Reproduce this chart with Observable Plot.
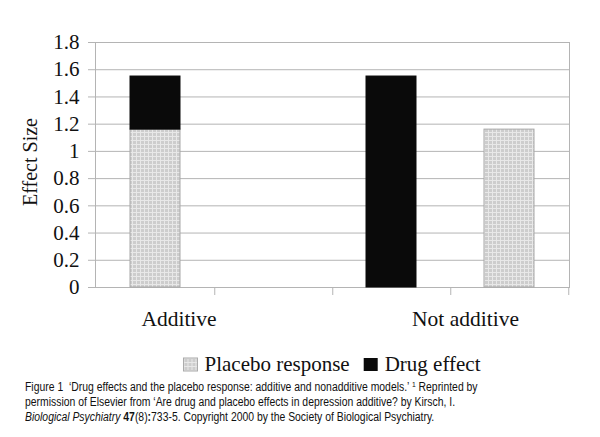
<!DOCTYPE html>
<html>
<head>
<meta charset="utf-8">
<script src="https://cdn.jsdelivr.net/npm/d3@7"></script>
<script src="https://cdn.jsdelivr.net/npm/@observablehq/plot@0.6"></script>
<style>
  body { margin: 0; background: #fff; width: 600px; height: 437px; overflow: hidden; }
  #legend svg { display: block; }
  #caption { font-family: 'Liberation Sans', Arial, sans-serif; font-size: 12.3px; line-height: 15px; color: #111; padding: 2px 0 0 25px; transform: scaleX(0.846); transform-origin: 25px 0; white-space: nowrap; }
  #caption sup { font-size: 8px; vertical-align: 4px; line-height: 0; }
</style>
</head>
<body>
<div id="chart"></div>
<div id="legend"></div>
<div id="caption">Figure 1&nbsp; ‘Drug effects and the placebo response: additive and nonadditive models.’ <sup>1</sup> Reprinted by<br>permission of Elsevier from ‘Are drug and placebo effects in depression additive? by Kirsch, I.<br><i>Biological Psychiatry</i> <b>47</b>(8)<b>:</b>733-5. Copyright 2000 by the Society of Biological Psychiatry.</div>
<script>
// Data
const slots = ["Additive: stacked", "Additive: gap", "Not additive: drug", "Not additive: placebo"];
const series = ["Placebo response", "Drug effect"];
const placeboValues = [1.16, 0, 0, 1.16];
const drugValues = [0.39, 0, 1.55, 0];
const categoryLabels = ["Additive", "Not additive"];
const yTicks = [0, 0.2, 0.4, 0.6, 0.8, 1, 1.2, 1.4, 1.6, 1.8];

const rows = [];
slots.forEach((s, i) => {
  if (placeboValues[i] > 0) rows.push({slot: s, series: series[0], value: placeboValues[i]});
  if (drugValues[i] > 0) rows.push({slot: s, series: series[1], value: drugValues[i]});
});

const serif = "Liberation Serif, DejaVu Serif, serif";
const grid = "#b4b4b4";
const seriesFill = ["url(#placeboPattern)", "#0a0a0a"];
const patternDef = `<pattern id="placeboPattern" patternUnits="userSpaceOnUse" width="4" height="4">
  <rect width="4" height="4" fill="#cdcdcd"/>
  <rect x="0" y="0" width="1" height="4" fill="#e8e8e8"/>
  <rect x="0" y="0" width="4" height="1" fill="#e8e8e8"/>
</pattern>`;

const chart = Plot.plot({
  width: 600,
  height: 350,
  marginLeft: 95,
  marginRight: 31,
  marginTop: 42,
  marginBottom: 63,
  style: {fontFamily: serif, background: "#fff", color: "#111", overflow: "visible"},
  x: {domain: slots, paddingInner: 0.578, paddingOuter: 0.289, axis: null},
  y: {domain: [0, 1.8], axis: null},
  color: {domain: series, range: seriesFill},
  marks: [
    Plot.ruleY(yTicks, {y: d => d, stroke: grid, strokeWidth: 1, insetLeft: -7}),
    Plot.axisY({ticks: yTicks, label: null, tickSize: 0, tickPadding: 16, fontSize: 21, tickFormat: d => String(+d.toFixed(1)), fill: "#111"}),
    Plot.frame({anchor: "left", stroke: grid}),
    Plot.frame({anchor: "right", stroke: grid}),
    Plot.ruleX(slots, {x: d => d, dx: 59.25, y1: 0, y2: 0, insetBottom: -8, stroke: grid}),
    Plot.barY(rows, Plot.stackY({x: "slot", y: "value", fill: "series", order: series,
      stroke: d => d.series === series[0] ? "#a8a8a8" : "#0a0a0a", strokeWidth: 1})),
    Plot.text([categoryLabels[0]], {x: () => slots[0], frameAnchor: "bottom", dy: 38, dx: 23.5, fontSize: 21.5, fill: "#111"}),
    Plot.text([categoryLabels[1]], {x: () => slots[3], frameAnchor: "bottom", dy: 38, dx: -44, fontSize: 21.5, fill: "#111"}),
    Plot.text(["Effect Size"], {frameAnchor: "left", textAnchor: "middle", dx: -65, dy: -3, rotate: -90, fontSize: 20, fill: "#111"})
  ]
});

const ns = "http://www.w3.org/2000/svg";
const defs = document.createElementNS(ns, "defs");
defs.innerHTML = patternDef;
chart.insertBefore(defs, chart.firstChild);
document.getElementById("chart").appendChild(chart);

// legend (SVG, centred on the plot area)
const lsvg = d3.select("#legend").append("svg")
  .attr("width", 600).attr("height", 28)
  .style("font-family", serif);
lsvg.append("defs").html(patternDef.replace('id="placeboPattern"', 'id="placeboPatternL"'));
const items = lsvg.append("g");
let cx = 0;
series.forEach((s, i) => {
  const g = items.append("g").attr("transform", `translate(${cx},0)`);
  g.append("rect").attr("x", 0).attr("y", 8).attr("width", 14).attr("height", 13)
    .attr("fill", i === 0 ? "url(#placeboPatternL)" : seriesFill[1])
    .attr("stroke", i === 0 ? "#aaa" : "none");
  const t = g.append("text").attr("x", 21).attr("y", 21).attr("font-size", 21).attr("fill", "#111").text(s);
  cx += 21 + t.node().getComputedTextLength() + 14;
});
const totalW = cx - 14;
items.attr("transform", `translate(${(95 + 569) / 2 - totalW / 2},0)`);
</script>
</body>
</html>
